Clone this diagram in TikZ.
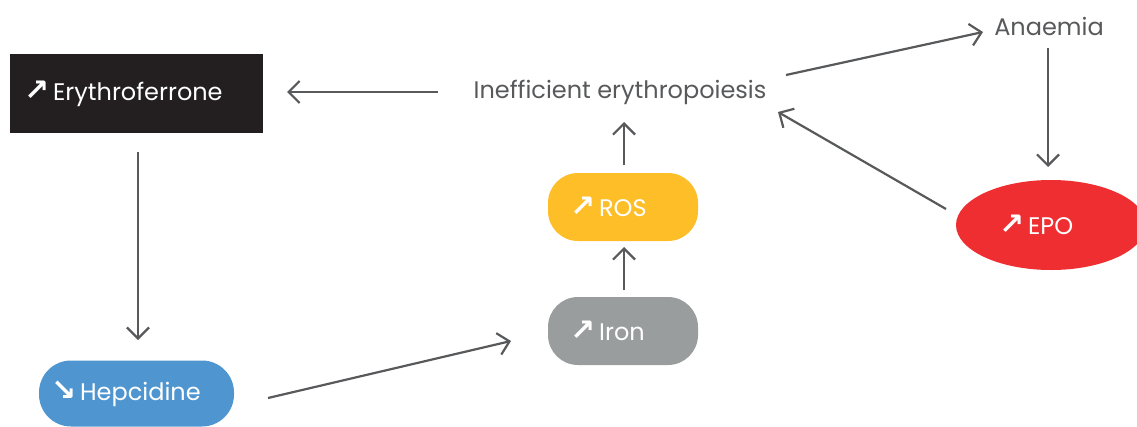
\documentclass[tikz,border=0pt]{standalone}
\usepackage{fontspec}
\setmainfont{Poppins}
\newfontfamily\symfont{DejaVu Sans}
\usetikzlibrary{arrows.meta,shapes.geometric,calc}
\definecolor{txtgray}{HTML}{58595B}
\definecolor{arrgray}{HTML}{58595B}
\definecolor{boxblack}{HTML}{231F20}
\definecolor{rosyellow}{HTML}{FDBE28}
\definecolor{irongray}{HTML}{9A9D9E}
\definecolor{epored}{HTML}{EE2E31}
\definecolor{hepblue}{HTML}{4F96D0}
\newcommand{\up}{{\symfont\bfseries\fontsize{30}{24}\selectfont ↗}\,}
\newcommand{\down}{{\symfont\bfseries\fontsize{30}{24}\selectfont ↘}\,}
\tikzset{
  lbl/.style={font=\fontsize{24}{28}\selectfont, text=txtgray, inner sep=0pt},
  pill/.style={font=\fontsize{24}{28}\selectfont, text=white, rounded corners=30pt,
    inner xsep=22pt, inner ysep=0pt, minimum height=68pt, align=left},
  arr/.style={draw=arrgray, line width=2.2pt, -{Straight Barb[length=11pt,width=22pt,line width=2.2pt]}},
}
\begin{document}
\begin{tikzpicture}[x=1pt,y=-1pt]
\useasboundingbox (0,0) rectangle (1137,426);
\clip (0,0) rectangle (1137,426);
% nodes
\node[pill, rounded corners=0pt, fill=boxblack, inner xsep=14pt, text width=225pt, minimum height=79pt] (ery) at (136.5,93.5) {\up Erythroferrone};
\node[lbl] (ineff) at (620,92) {Inefficient erythropoiesis};
\node[lbl] (anae) at (1049,26) {Anaemia};
\node[pill, fill=rosyellow, text width=106pt] (ros) at (623,207) {\up ROS};
\node[pill, fill=irongray, text width=106pt] (iron) at (623,331) {\up Iron};
\node[pill, fill=hepblue, text width=171pt, inner xsep=12pt, minimum height=66pt, rounded corners=32pt] (hep) at (136.5,393.5) {\down Hepcidine};
\node[ellipse, fill=epored, inner sep=0pt, minimum width=190pt, minimum height=90pt,
      font=\fontsize{24}{28}\selectfont, text=white, text width=104pt, align=left] (epo) at (1051,225) {\up EPO};
% connectors
\draw[arr] ([shift={(-182,0)}]ineff.center) -- ([shift={(150.5,-1.5)}]ery.center);
\draw[arr] ([shift={(166,-17)}]ineff.center) -- ([shift={(-66,6)}]anae.center);
\draw[arr] ([shift={(-1,22)}]anae.center) -- ([shift={(-3,-58)}]epo.center);
\draw[arr] ([shift={(-105,-16)}]epo.center) -- ([shift={(158,20)}]ineff.center);
\draw[arr] ([shift={(1,-42)}]ros.center) -- ([shift={(4,30)}]ineff.center);
\draw[arr] ([shift={(1,-41)}]iron.center) -- ([shift={(1,40)}]ros.center);
\draw[arr] ([shift={(1.5,58.5)}]ery.center) -- ([shift={(1.5,-53.5)}]hep.center);
\draw[arr] ([shift={(131.5,4.5)}]hep.center) -- ([shift={(-112,10)}]iron.center);
\end{tikzpicture}
\end{document}
